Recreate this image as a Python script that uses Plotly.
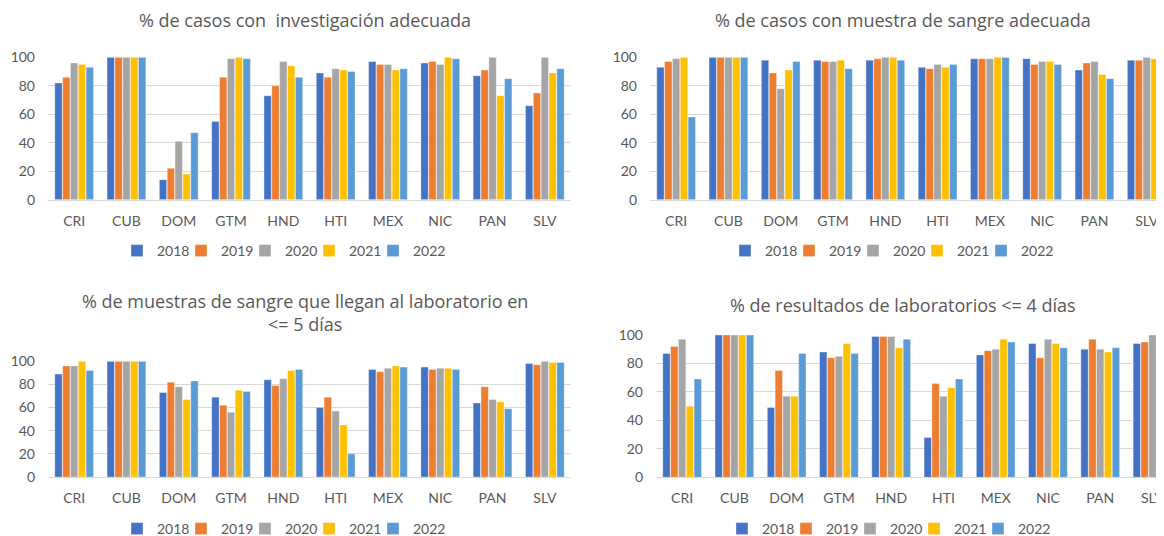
import plotly.graph_objects as go

countries = ["CRI", "CUB", "DOM", "GTM", "HND", "HTI", "MEX", "NIC", "PAN", "SLV"]
years = ["2018", "2019", "2020", "2021", "2022"]
colors = ["#4472C4", "#ED7D31", "#A5A5A5", "#FFC000", "#5B9BD5"]

# Chart 1: % de casos con investigación adecuada (per year, per country)
inv_2018 = [82, 100, 14, 55, 73, 89, 97, 96, 87, 66]
inv_2019 = [86, 100, 22, 86, 80, 86, 95, 97, 91, 75]
inv_2020 = [96, 100, 41, 99, 97, 92, 95, 95, 100, 100]
inv_2021 = [95, 100, 18, 100, 94, 91, 91, 100, 73, 89]
inv_2022 = [93, 100, 47, 99, 86, 90, 92, 99, 85, 92]

# Chart 2: % de casos con muestra de sangre adecuada
mue_2018 = [93, 100, 98, 98, 98, 93, 99, 99, 91, 98]
mue_2019 = [97, 100, 89, 97, 99, 92, 99, 95, 96, 98]
mue_2020 = [99, 100, 78, 97, 100, 95, 99, 97, 97, 100]
mue_2021 = [100, 100, 91, 98, 100, 93, 100, 97, 88, 99]
mue_2022 = [58, 100, 97, 92, 98, 95, 100, 95, 85, 100]

# Chart 3: % de muestras de sangre que llegan al laboratorio en <= 5 días
lab_2018 = [89, 100, 73, 69, 84, 60, 93, 95, 64, 98]
lab_2019 = [96, 100, 82, 62, 79, 69, 91, 93, 78, 97]
lab_2020 = [96, 100, 78, 56, 85, 57, 94, 94, 67, 100]
lab_2021 = [100, 100, 67, 75, 92, 45, 96, 94, 65, 99]
lab_2022 = [92, 100, 83, 74, 93, 20, 95, 93, 59, 99]

# Chart 4: % de resultados de laboratorios <= 4 días
res_2018 = [87, 100, 49, 88, 99, 28, 86, 94, 90, 94]
res_2019 = [92, 100, 75, 84, 99, 66, 89, 84, 97, 95]
res_2020 = [97, 100, 57, 85, 99, 57, 90, 97, 90, 100]
res_2021 = [50, 100, 57, 94, 91, 63, 97, 94, 88, 98]
res_2022 = [69, 100, 87, 87, 97, 69, 95, 91, 91, 97]

titles = [
    "% de casos con  investigación adecuada",
    "% de casos con muestra de sangre adecuada",
    "% de muestras de sangre que llegan al laboratorio en<br><= 5 días",
    "% de resultados de laboratorios <= 4 días",
]
series = [
    [inv_2018, inv_2019, inv_2020, inv_2021, inv_2022],
    [mue_2018, mue_2019, mue_2020, mue_2021, mue_2022],
    [lab_2018, lab_2019, lab_2020, lab_2021, lab_2022],
    [res_2018, res_2019, res_2020, res_2021, res_2022],
]

# page has an 8px body margin: figure coordinates = page coordinates - 8
OFF = 8
W, H = 1164 - OFF, 536 - OFF
FONT = "Lato"
TFONT = "Open Sans"
GREY = "#595959"

# page-pixel layout per panel: (x_left, x_right, y_top(100), y_bottom(0), xrange_right)
panels = [
    (48, 571, 57.3, 199.7, 9.5),
    (650, 1164, 57.3, 199.7, 9.33),
    (48, 571, 361.3, 477.0, 9.5),
    (656, 1164, 335.0, 477.3, 9.22),
]
title_pos = [(305, 20), (903, 20), (305, 312), (903, 305)]
# page x of the centre of the first legend text ("2018"), page y of legend row
legend_pos = [(178, 251), (786, 251), (178, 529), (783, 529)]


def px(x):
    return (x - OFF) / W


def py(y):
    return 1 - (y - OFF) / H


fig = go.Figure()
layout = dict(
    width=W, height=H,
    margin=dict(l=0, r=0, t=0, b=0, autoexpand=False),
    paper_bgcolor="white", plot_bgcolor="white",
    barmode="group", bargap=0.25, bargroupgap=0.06,
    font=dict(family=FONT, color=GREY, size=14),
    annotations=[],
)

for i, (vals, (xl, xr, yt, yb, xmax)) in enumerate(zip(series, panels)):
    n = i + 1
    xa = "x" if n == 1 else f"x{n}"
    ya = "y" if n == 1 else f"y{n}"
    lg = "legend" if n == 1 else f"legend{n}"
    for k, (y, c, v) in enumerate(zip(years, colors, vals)):
        fig.add_trace(go.Bar(
            x=countries, y=v, name=y, xaxis=xa, yaxis=ya, legend=lg,
            legendwidth=19 if k < 4 else 40,
            marker=dict(color=c, line=dict(color="rgba(255,255,255,0.6)", width=0.6)),
        ))
    xkey = "xaxis" if n == 1 else f"xaxis{n}"
    ykey = "yaxis" if n == 1 else f"yaxis{n}"
    layout[xkey] = dict(
        domain=[px(xl), min(1.0, px(xr))], anchor=ya, type="category",
        range=[-0.5, xmax], showgrid=False, showline=True,
        linecolor="#D9D9D9", linewidth=1, ticks="", ticklabelstandoff=8,
        tickfont=dict(size=14, color=GREY, family=FONT), fixedrange=True,
    )
    layout[ykey] = dict(
        domain=[py(yb), py(yt)], anchor=xa, range=[0, 100],
        tickvals=[0, 20, 40, 60, 80, 100], showgrid=True, gridcolor="#D9D9D9",
        gridwidth=1, zeroline=False, ticks="", ticklabelstandoff=12,
        tickfont=dict(size=14, color=GREY, family=FONT), fixedrange=True,
    )
    lx, ly = legend_pos[i]
    layout[lg] = dict(
        orientation="h", x=px(lx - 61), y=py(ly), xanchor="left", yanchor="middle",
        font=dict(size=14, color=GREY, family=FONT), bgcolor="rgba(0,0,0,0)",
        itemwidth=30, tracegroupgap=0,
    )
    tx, ty = title_pos[i]
    layout["annotations"].append(dict(
        text=titles[i], x=px(tx), y=py(ty), xref="paper", yref="paper",
        xanchor="center", yanchor="middle", showarrow=False,
        font=dict(size=18, color=GREY, family=TFONT), align="center",
    ))

fig.update_layout(**layout)
fig.write_html("out.html")
